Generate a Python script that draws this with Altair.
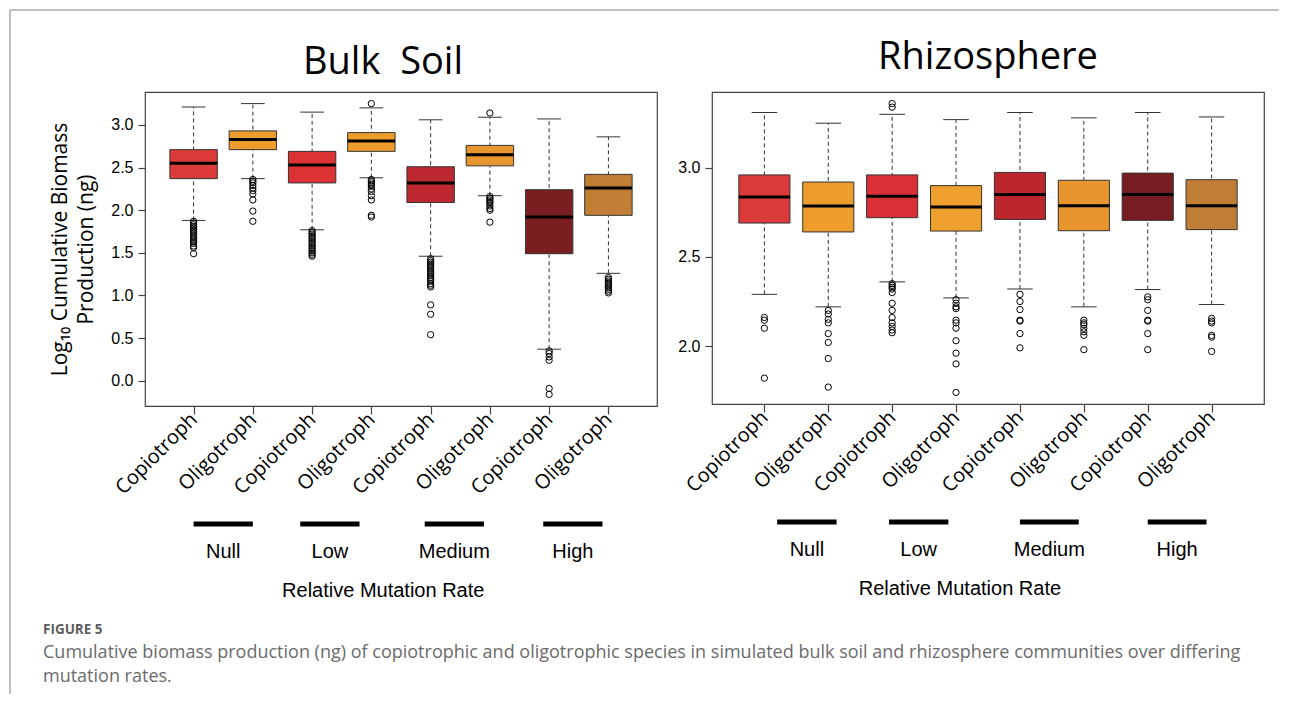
import json
import altair as alt
import pandas as pd

# ---------------- data ----------------
positions = [1, 2, 3, 4, 5, 6, 7, 8]
types = ["Copiotroph", "Oligotroph", "Copiotroph", "Oligotroph",
         "Copiotroph", "Oligotroph", "Copiotroph", "Oligotroph"]
levels = ["Null", "Low", "Medium", "High"]

# Bulk soil box statistics
bulk_lo = [1.88, 2.37, 1.77, 2.38, 1.46, 2.17, 0.37, 1.26]
bulk_q1 = [2.37, 2.71, 2.32, 2.69, 2.09, 2.52, 1.49, 1.94]
bulk_med = [2.55, 2.83, 2.53, 2.81, 2.32, 2.65, 1.92, 2.26]
bulk_q3 = [2.71, 2.93, 2.69, 2.91, 2.51, 2.76, 2.24, 2.42]
bulk_hi = [3.21, 3.25, 3.15, 3.20, 3.06, 3.09, 3.07, 2.86]
bulk_out = [
    [1.87, 1.85, 1.83, 1.81, 1.79, 1.77, 1.75, 1.73, 1.71, 1.69, 1.67, 1.65,
     1.63, 1.61, 1.58, 1.56, 1.49],
    [2.36, 2.34, 2.32, 2.29, 2.26, 2.23, 2.19, 2.12, 1.99, 1.87],
    [1.76, 1.74, 1.72, 1.70, 1.68, 1.66, 1.64, 1.62, 1.60, 1.58, 1.56, 1.54,
     1.52, 1.50, 1.48, 1.46],
    [2.36, 2.34, 2.32, 2.30, 2.28, 2.25, 2.22, 2.17, 2.12, 1.94, 1.92, 3.25],
    [1.43, 1.41, 1.39, 1.37, 1.35, 1.33, 1.31, 1.29, 1.27, 1.25, 1.23, 1.21,
     1.19, 1.17, 1.14, 1.12, 1.10, 0.89, 0.78, 0.54],
    [2.16, 2.14, 2.12, 2.10, 2.08, 2.05, 2.02, 2.00, 1.86, 3.14],
    [0.35, 0.32, 0.28, 0.24, -0.09, -0.16],
    [1.21, 1.19, 1.17, 1.15, 1.13, 1.11, 1.09, 1.07, 1.05, 1.03],
]
bulk_colors = ["#dd3a3a", "#ee9c2e", "#dc3236", "#ee9c2c",
               "#be2830", "#e8952d", "#7a1e22", "#c17e35"]

# Rhizosphere box statistics
rhizo_lo = [2.29, 2.22, 2.36, 2.27, 2.32, 2.22, 2.317, 2.233]
rhizo_q1 = [2.69, 2.64, 2.72, 2.645, 2.71, 2.647, 2.705, 2.653]
rhizo_med = [2.836, 2.785, 2.84, 2.78, 2.85, 2.787, 2.85, 2.787]
rhizo_q3 = [2.96, 2.92, 2.96, 2.90, 2.974, 2.93, 2.97, 2.933]
rhizo_hi = [3.31, 3.25, 3.30, 3.27, 3.31, 3.28, 3.31, 3.285]
rhizo_out = [
    [2.16, 2.145, 2.10, 1.82],
    [2.20, 2.18, 2.15, 2.13, 2.07, 2.02, 1.93, 1.77],
    [2.35, 2.34, 2.33, 2.32, 2.30, 2.24, 2.20, 2.16, 2.13, 2.11, 2.09, 2.075,
     3.34, 3.36],
    [2.26, 2.24, 2.22, 2.21, 2.145, 2.13, 2.10, 2.03, 1.96, 1.90, 1.74],
    [2.29, 2.25, 2.205, 2.145, 2.14, 2.07, 1.99],
    [2.145, 2.13, 2.12, 2.10, 2.08, 2.06, 1.98],
    [2.276, 2.26, 2.20, 2.145, 2.14, 2.07, 1.98],
    [2.155, 2.14, 2.13, 2.06, 2.05, 1.97],
]
rhizo_colors = ["#dc3a3a", "#ee9d2d", "#db3035", "#ee9f2d",
                "#be262e", "#e8952e", "#771d21", "#c07f35"]

# group bars under the axis (in x-axis units)
bulk_group_start = [1.0, 2.8, 4.9, 6.9]
bulk_group_end = [2.0, 3.8, 5.9, 7.9]
rhizo_group_start = [1.2, 2.95, 5.0, 7.0]
rhizo_group_end = [2.13, 3.88, 5.92, 7.92]
bulk_xtitle_pos = [4.2]
rhizo_xtitle_pos = [4.06]
xtitle = "Relative Mutation Rate"

bulk_yticks = [0.0, 0.5, 1.0, 1.5, 2.0, 2.5, 3.0]
rhizo_yticks = [2.0, 2.5, 3.0]
bulk_ydomain = [-0.296, 3.386]
rhizo_ydomain = [1.675, 3.425]

panel_titles = ["Bulk\u00a0\u00a0Soil", "Rhizosphere"]
ytitle = ["Log\u2081\u2080 Cumulative Biomass", "Production (ng)"]
caption_head = "FIGURE 5"
caption_lines = [
    "Cumulative biomass production (ng) of copiotrophic and oligotrophic species in simulated bulk soil and rhizosphere communities over differing",
    "mutation rates.",
]

FRAME = "#444444"
W1, H1 = 512, 314
W2, H2 = 552, 312


def panel(lo, q1, med, q3, hi, outs, colors, gstart, gend, xt_pos,
          ydomain, yticks, w, h, title, title_offset, title_dx, show_ytitle):
    xs = alt.Scale(domain=[0.18, 8.82], nice=False, zero=False)
    ys = alt.Scale(domain=ydomain, nice=False, zero=False)
    xaxis = alt.Axis(values=positions,
                     labelExpr=json.dumps(types) + "[datum.value - 1]",
                     title=None, grid=False, domain=False, tickSize=8,
                     tickColor=FRAME, tickWidth=1.2, labelAngle=315,
                     labelAlign="right", labelBaseline="middle",
                     labelFont="Open Sans", labelFontSize=20,
                     labelColor="black", labelPadding=2,
                     labelOverlap=False, labelFlush=False)
    yaxis_kw = dict(values=yticks, format=".1f", grid=False, domain=False,
                    tickSize=7, tickColor=FRAME, tickWidth=1.2,
                    labelFont="Liberation Sans", labelFontSize=16,
                    labelColor="black", labelPadding=5, labelOverlap=False,
                    labelFlush=False)
    if show_ytitle:
        yaxis = alt.Axis(title=ytitle, titleFont="Open Sans",
                         titleFontSize=21, titleFontWeight="normal",
                         titleLineHeight=26, titlePadding=14,
                         titleColor="black", **yaxis_kw)
    else:
        yaxis = alt.Axis(title=None, **yaxis_kw)

    df = pd.DataFrame({"pos": positions, "type": types, "lo": lo, "q1": q1,
                       "med": med, "q3": q3, "hi": hi, "color": colors})
    base = alt.Chart(df).transform_calculate(
        xl="datum.pos - 0.4", xr="datum.pos + 0.4",
        cl="datum.pos - 0.2", cr="datum.pos + 0.2")

    X = lambda f: alt.X(f, scale=xs, axis=xaxis)
    Y = lambda f: alt.Y(f, scale=ys, axis=yaxis)

    whisk = base.mark_rule(strokeDash=[4, 3], color="#333333",
                           strokeWidth=1).encode(x=X("pos:Q"), y=Y("lo:Q"),
                                                 y2="hi:Q")
    cap_hi = base.mark_rule(color="#333333", strokeWidth=1).encode(
        x=X("cl:Q"), x2="cr:Q", y=Y("hi:Q"))
    cap_lo = base.mark_rule(color="#333333", strokeWidth=1).encode(
        x=X("cl:Q"), x2="cr:Q", y=Y("lo:Q"))
    box = base.mark_rect(stroke="#333333", strokeWidth=1).encode(
        x=X("xl:Q"), x2="xr:Q", y=Y("q1:Q"), y2="q3:Q",
        fill=alt.Color("color:N", scale=None))
    medl = base.mark_rule(color="black", strokeWidth=3).encode(
        x=X("xl:Q"), x2="xr:Q", y=Y("med:Q"))

    orows = []
    for p, vals in zip(positions, outs):
        for v in vals:
            orows.append({"pos": p, "val": v})
    odf = pd.DataFrame(orows)
    pts = alt.Chart(odf).mark_point(shape="circle", filled=False,
                                    color="black", size=40, strokeWidth=1,
                                    opacity=1).encode(x=X("pos:Q"),
                                                      y=Y("val:Q"))

    gdf = pd.DataFrame({"start": gstart, "end": gend, "label": levels})
    gbase = alt.Chart(gdf).transform_calculate(
        mid="(datum.start + datum.end) / 2")
    gbars = gbase.mark_rule(color="black", strokeWidth=5,
                            strokeCap="butt").encode(
        x=X("start:Q"), x2="end:Q", y=alt.value(h + 118))
    gtext = gbase.mark_text(font="Liberation Sans", fontSize=20,
                            baseline="alphabetic", align="center",
                            color="black").encode(
        x=X("mid:Q"), y=alt.value(h + 152), text="label:N")
    tdf = pd.DataFrame({"p": xt_pos, "t": [xtitle]})
    ttext = alt.Chart(tdf).mark_text(font="Liberation Sans", fontSize=20,
                                     baseline="alphabetic", align="center",
                                     color="black").encode(
        x=X("p:Q"), y=alt.value(h + 191), text="t:N")

    ptitle = alt.Chart(pd.DataFrame({"t": [title]})).mark_text(
        font="Open Sans", fontSize=38, color="black", align="center",
        baseline="alphabetic").encode(x=alt.value(w / 2 + title_dx),
                                      y=alt.value(-title_offset), text="t:N")

    return [whisk, cap_hi, cap_lo, box, medl, pts, gbars, gtext, ttext, ptitle]


l_layers = panel(bulk_lo, bulk_q1, bulk_med, bulk_q3, bulk_hi,
                 bulk_out, bulk_colors, bulk_group_start,
                 bulk_group_end, bulk_xtitle_pos, bulk_ydomain,
                 bulk_yticks, W1, H1, panel_titles[0], 18, -18, True)

# page decoration (border lines) and caption
one = pd.DataFrame({"t": [caption_head]})
border_left = alt.Chart(one).mark_rule(color="#aaaaaa", strokeWidth=1.5).encode(
    x=alt.value(-135), y=alt.value(-82), y2=alt.value(602))
border_top = alt.Chart(one).mark_rule(color="#aaaaaa", strokeWidth=1.5).encode(
    x=alt.value(-135), x2=alt.value(1134), y=alt.value(-82))
cap_head = alt.Chart(one).mark_text(font="Open Sans", fontSize=13.5,
                                    fontWeight="bold", color="#5e5e5e",
                                    align="left", baseline="alphabetic").encode(
    x=alt.value(-102), y=alt.value(542), text="t:N")
cap_l1 = alt.Chart(pd.DataFrame({"t": [caption_lines[0]]})).mark_text(
    font="Open Sans", fontSize=18, color="#6b6b6b", align="left",
    baseline="alphabetic").encode(x=alt.value(-102), y=alt.value(566),
                                  text="t:N")
cap_l2 = alt.Chart(pd.DataFrame({"t": [caption_lines[1]]})).mark_text(
    font="Open Sans", fontSize=18, color="#6b6b6b", align="left",
    baseline="alphabetic").encode(x=alt.value(-102), y=alt.value(590),
                                  text="t:N")

left = alt.layer(*l_layers, border_left, border_top, cap_head, cap_l1,
                 cap_l2).properties(width=W1, height=H1)

r_layers = panel(rhizo_lo, rhizo_q1, rhizo_med, rhizo_q3, rhizo_hi,
                 rhizo_out, rhizo_colors, rhizo_group_start,
                 rhizo_group_end, rhizo_xtitle_pos, rhizo_ydomain,
                 rhizo_yticks, W2, H2, panel_titles[1], 22.7, 0, False)
right = alt.layer(*r_layers).properties(width=W2, height=H2)

chart = alt.hconcat(left, right, spacing=55, bounds="flush").properties(
    padding=0
).configure_view(stroke=FRAME, strokeWidth=1.2)

chart.save("out.html", embed_options={"renderer": "svg", "actions": False})
